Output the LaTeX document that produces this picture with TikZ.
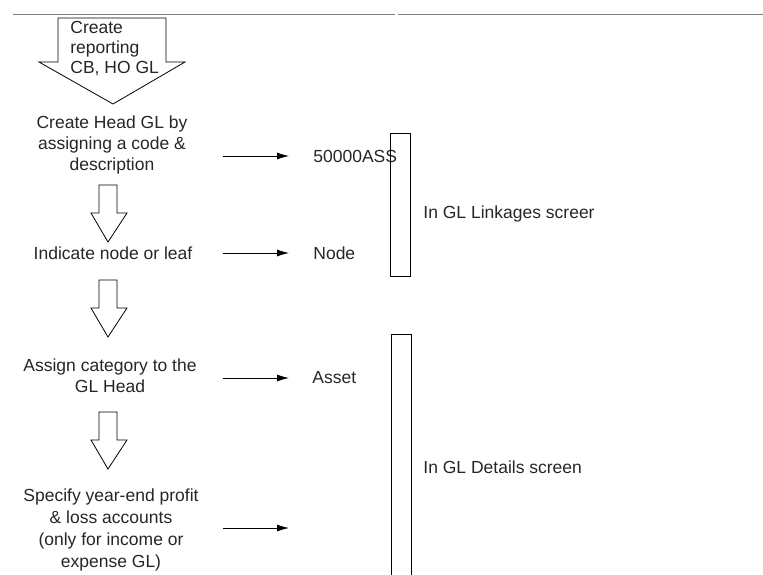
\documentclass[tikz,border=0pt]{standalone}
\usepackage{fontspec}
\setmainfont{Liberation Sans}
\usetikzlibrary{arrows.meta,positioning}

\begin{document}
\begin{tikzpicture}[x=1pt, y=-1pt, line width=0.8pt,
  txt/.style={font=\fontsize{17.5}{21}\selectfont, align=center, inner sep=0pt, text=black!85},
  lbl/.style={font=\fontsize{17.5}{21}\selectfont, inner sep=0pt, anchor=west, text=black!85},
  blk/.style={draw, fill=white, line join=miter},
  link/.style={-{Latex[length=12pt,width=7pt]}},
  screen/.style={draw, minimum width=20pt, inner sep=0pt, anchor=north west},
  rule/.style={draw=black!50, line width=0.7pt}]

\useasboundingbox (0,0) rectangle (763,574);

\draw[rule] (13,14) -- (395,14);
\draw[rule] (398,14) -- (763,14);

\draw[blk] (58,18) -- (166,18) -- (166,62) -- (185,62) -- (113,104) -- (39,62) -- (58,62) -- cycle;
\foreach \t in {185,280,412}
  \draw[blk] (99,\t) -- (117,\t) -- (117,\t+28) -- (127,\t+28) -- (108,\t+57) -- (91,\t+28) -- (99,\t+28) -- cycle;

\node[txt, align=left, anchor=west, font=\fontsize{17.5}{20}\selectfont] (rep) at (70,49) {Create\\reporting\\CB, HO GL};
\node[txt] (head) at (112,145) {Create Head GL by\\assigning a code \&\\description};
\node[txt] (leaf) at (113,253) {Indicate node or leaf};
\node[txt] (cat) at (110,376) {Assign category to the\\GL Head};
\node[txt, font=\fontsize{17.5}{22.3}\selectfont] (pl) at (111,530) {Specify year-end profit\\\& loss accounts\\(only for income or\\expense GL)};

\foreach \y/\n in {156/1,253/2,378/3,528/4} {
  \coordinate (a\n) at (223,\y);
  \coordinate (b\n) at (289,\y);
  \draw[link] (a\n) -- (b\n);
}

\node[lbl, right=24pt of b1] (code) {50000ASS};
\node[lbl, right=24pt of b2] (node) {Node};
\node[lbl, right=23pt of b3] (asset) {Asset};

\node[screen, minimum height=143pt] (links) at (390,133) {};
\node[screen, minimum height=260pt] (details) at (391,334) {};

\node[lbl] (linkstxt) at (423,214) {In GL Linkages screer};
\node[lbl] (detailstxt) at (423,467) {In GL Details screen};

\end{tikzpicture}
\end{document}
